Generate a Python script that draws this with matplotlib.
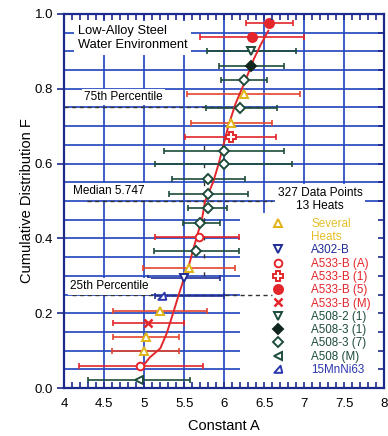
import matplotlib
matplotlib.use("Agg")
import numpy as np
import matplotlib.pyplot as plt
from matplotlib.lines import Line2D
from matplotlib.patches import Rectangle
from matplotlib.path import Path
from matplotlib.ticker import MultipleLocator, FixedLocator

plt.rcParams['font.family'] = ['Liberation Sans', 'DejaVu Sans']

# ---- data: cumulative rank F, constant A, and the A range (low / high) ----
several_F = [0.785, 0.709, 0.320, 0.207, 0.136, 0.100]
several_A = [6.24, 6.09, 5.56, 5.19, 5.02, 5.00]
several_lo = [5.53, 5.58, 4.98, 4.61, 4.61, 4.59]
several_hi = [6.95, 6.60, 6.13, 5.78, 5.43, 5.43]

a302b_F = [0.293]
a302b_A = [5.50]
a302b_lo = [5.05]
a302b_hi = [5.94]

a533bA_F = [0.405, 0.059]
a533bA_A = [5.68, 4.94]
a533bA_lo = [5.13, 4.18]
a533bA_hi = [6.18, 5.73]

a533b1_F = [0.672]
a533b1_A = [6.08]
a533b1_lo = [5.51]
a533b1_hi = [6.65]

a533b5_F = [0.977, 0.939]
a533b5_A = [6.56, 6.35]
a533b5_lo = [6.27, 5.70]
a533b5_hi = [6.86, 7.00]

a533bM_F = [0.175]
a533bM_A = [5.04]
a533bM_lo = [4.61]
a533bM_hi = [5.50]

a5082_F = [0.901]
a5082_A = [6.33]
a5082_lo = [5.78]
a5082_hi = [6.90]

a5083_1_F = [0.862]
a5083_1_A = [6.33]
a5083_1_lo = [5.93]
a5083_1_hi = [6.74]

a5083_7_F = [0.824, 0.748, 0.634, 0.598, 0.558, 0.519, 0.480, 0.442, 0.366]
a5083_7_A = [6.24, 6.20, 6.00, 5.99, 5.80, 5.79, 5.79, 5.70, 5.65]
a5083_7_lo = [5.96, 5.77, 5.25, 5.13, 5.35, 5.31, 5.54, 5.48, 5.12]
a5083_7_hi = [6.53, 6.66, 6.75, 6.85, 6.26, 6.29, 6.03, 5.95, 6.18]

a508M_F = [0.021]
a508M_A = [4.93]
a508M_lo = [4.29]
a508M_hi = [5.57]

mnni_F = [0.246]
mnni_A = [5.22]
mnni_lo = [5.14]
mnni_hi = [5.99]

# fitted cumulative distribution
fit_A = [4.95, 5.07, 5.20, 5.28, 5.36, 5.43, 5.49, 5.56, 5.65, 5.72, 5.76,
         5.86, 5.93, 6.05, 6.14, 6.26, 6.37, 6.46, 6.55]
fit_F = [0.050, 0.082, 0.106, 0.146, 0.200, 0.249, 0.289, 0.330, 0.400, 0.450,
         0.500, 0.550, 0.600, 0.700, 0.760, 0.820, 0.880, 0.920, 0.955]

percentiles = [0.25, 0.50, 0.75]
median_A = 5.747

x_ticks = [4, 4.5, 5, 5.5, 6, 6.5, 7, 7.5, 8]
x_tick_labels = ["4", "4.5", "5", "5.5", "6", "6.5", "7", "7.5", "8"]
y_ticks = [0.0, 0.2, 0.4, 0.6, 0.8, 1.0]
y_tick_labels = ["0.0", "0.2", "0.4", "0.6", "0.8", "1.0"]

# ---- colours ----
RED = '#e3262b'
ORANGE_RED = '#e5452d'
GREEN = '#1d4c3a'
NAVY = '#1f2c94'
BLUE = '#2c37ad'
YELLOW = '#e0b316'
YELLOW_TXT = '#e4bf2a'
GRID = '#2f50c2'
FRAME = '#1c2a8c'

slant_tri = Path([(-1.0, -0.8), (0.9, -0.8), (0.5, 0.9), (-1.0, -0.8)],
                 [Path.MOVETO, Path.LINETO, Path.LINETO, Path.CLOSEPOLY])

series = [
    dict(label='Several', F=several_F, A=several_A, lo=several_lo, hi=several_hi,
         marker='^', mfc='white', mec=YELLOW, ms=6, ecolor=ORANGE_RED, tcolor=YELLOW_TXT),
    dict(label='A302-B', F=a302b_F, A=a302b_A, lo=a302b_lo, hi=a302b_hi,
         marker='v', mfc='white', mec=NAVY, ms=6, ecolor=NAVY, tcolor=NAVY),
    dict(label='A533-B (A)', F=a533bA_F, A=a533bA_A, lo=a533bA_lo, hi=a533bA_hi,
         marker='o', mfc='white', mec=RED, ms=5.5, ecolor=RED, tcolor=RED),
    dict(label='A533-B (1)', F=a533b1_F, A=a533b1_A, lo=a533b1_lo, hi=a533b1_hi,
         marker='P', mfc='white', mec=RED, ms=6.5, ecolor=RED, tcolor=RED),
    dict(label='A533-B (5)', F=a533b5_F, A=a533b5_A, lo=a533b5_lo, hi=a533b5_hi,
         marker='o', mfc=RED, mec=RED, ms=6.5, ecolor=RED, tcolor=RED),
    dict(label='A533-B (M)', F=a533bM_F, A=a533bM_A, lo=a533bM_lo, hi=a533bM_hi,
         marker='x', mfc=RED, mec=RED, ms=6, ecolor=RED, tcolor=RED),
    dict(label='A508-2 (1)', F=a5082_F, A=a5082_A, lo=a5082_lo, hi=a5082_hi,
         marker='v', mfc='white', mec=GREEN, ms=6, ecolor=GREEN, tcolor=GREEN),
    dict(label='A508-3 (1)', F=a5083_1_F, A=a5083_1_A, lo=a5083_1_lo, hi=a5083_1_hi,
         marker='D', mfc='#10261d', mec='#10261d', ms=5, ecolor=GREEN, tcolor=GREEN),
    dict(label='A508-3 (7)', F=a5083_7_F, A=a5083_7_A, lo=a5083_7_lo, hi=a5083_7_hi,
         marker='D', mfc='white', mec=GREEN, ms=5, ecolor=GREEN, tcolor=GREEN),
    dict(label='A508 (M)', F=a508M_F, A=a508M_A, lo=a508M_lo, hi=a508M_hi,
         marker='<', mfc='white', mec=GREEN, ms=6, ecolor=GREEN, tcolor=GREEN),
    dict(label='15MnNi63', F=mnni_F, A=mnni_A, lo=mnni_lo, hi=mnni_hi,
         marker=slant_tri, mfc='white', mec=BLUE, ms=6, ecolor=NAVY, tcolor=BLUE),
]

W, H = 388, 436
fig = plt.figure(figsize=(W / 100, H / 100), dpi=100, facecolor='white')
rect = [64.3 / W, 48 / H, 320 / W, 374 / H]

# base axes: grid, data, annotations
ax = fig.add_axes(rect)
ax.set_xlim(4, 8)
ax.set_ylim(0, 1)
ax.xaxis.set_major_locator(MultipleLocator(0.5))
ax.yaxis.set_major_locator(MultipleLocator(0.05))
ax.grid(True, color=GRID, lw=1.3)
ax.set_axisbelow(True)
ax.tick_params(length=0, labelbottom=False, labelleft=False)
for s in ax.spines.values():
    s.set_visible(False)

# white panel behind the key
ax.add_patch(Rectangle((6.196, 0), 8 - 6.196, 0.468, facecolor='white',
                       edgecolor='none', zorder=1))

# percentile guide lines
ax.hlines(percentiles[0], 4.1, 6.6, colors='#333333', lw=1.0,
          linestyles=(0, (3, 2.5)), zorder=2)
ax.hlines(percentiles[1], 4.28, 6.6, colors='#333333', lw=1.0,
          linestyles=(0, (3, 2.5)), zorder=2)
ax.hlines(percentiles[2], 4.0, 6.5, colors='#333333', lw=1.0,
          linestyles=(0, (3, 2.5)), zorder=2)
ax.vlines(median_A, 0.30, 0.68, colors='#333333', lw=1.0,
          linestyles=(0, (3, 10)), zorder=2)

# error bars and markers
for s in series:
    A = np.array(s['A'])
    xerr = [A - np.array(s['lo']), np.array(s['hi']) - A]
    ax.errorbar(A, s['F'], xerr=xerr, fmt='none', ecolor=s['ecolor'],
                elinewidth=1.2, capsize=2.5, capthick=1.2, zorder=3)

ax.plot(fit_A, fit_F, color=RED, lw=1.4, zorder=4)

for s in series:
    mew = 1.8 if s['marker'] == 'x' else 1.4
    ax.plot(s['A'], s['F'], linestyle='none', marker=s['marker'], ms=s['ms'],
            mfc=s['mfc'], mec=s['mec'], mew=mew, zorder=5)

# annotations
box = dict(boxstyle='square,pad=0.3', facecolor='white', edgecolor='none')
ax.text(4.17, 0.97, "Low-Alloy Steel\nWater Environment", fontsize=9.3,
        ha='left', va='top', linespacing=1.2, bbox=box, zorder=6)
ax.text(4.25, percentiles[2] + 0.028, "75th Percentile", fontsize=8.5,
        ha='left', va='center', bbox=dict(boxstyle='square,pad=0.2',
        facecolor='white', edgecolor='none'), zorder=6)
ax.text(4.11, percentiles[1] + 0.026, f"Median {median_A:.3f}", fontsize=8.5,
        ha='left', va='center', bbox=dict(boxstyle='square,pad=0.2',
        facecolor='white', edgecolor='none'), zorder=6)
ax.text(4.07, percentiles[0] + 0.022, "25th Percentile", fontsize=8.5,
        ha='left', va='center', bbox=dict(boxstyle='square,pad=0.2',
        facecolor='white', edgecolor='none'), zorder=6)
ax.text(7.196, 0.505, "327 Data Points\n13 Heats", fontsize=8.6,
        ha='center', va='center', linespacing=1.1,
        bbox=dict(boxstyle='square,pad=0.2', facecolor='white', edgecolor='none'),
        zorder=6)

# key
handles, labels, tcolors = [], [], []
for s in series:
    mew = 1.8 if s['marker'] == 'x' else 1.4
    handles.append(Line2D([], [], linestyle='none', marker=s['marker'], ms=s['ms'],
                          mfc=s['mfc'], mec=s['mec'], mew=mew))
    labels.append(s['label'])
    tcolors.append(s['tcolor'])
    if s['label'] == 'Several':
        handles.append(Line2D([], [], linestyle='none'))
        labels.append('Heats')
        tcolors.append(YELLOW_TXT)
leg = ax.legend(handles, labels, loc='upper left', bbox_to_anchor=(0.651, 0.455),
                frameon=False, fontsize=8.4, handlelength=1.0, handletextpad=2.3,
                labelspacing=0.11, borderpad=0, borderaxespad=0)
for t, c in zip(leg.get_texts(), tcolors):
    t.set_color(c)
leg.set_zorder(7)

# overlay axes: frame, ticks, labels
axt = fig.add_axes(rect, facecolor='none')
axt.set_xlim(4, 8)
axt.set_ylim(0, 1)
axt.xaxis.set_major_locator(FixedLocator(x_ticks))
axt.set_xticklabels(x_tick_labels)
axt.xaxis.set_minor_locator(MultipleLocator(0.1))
axt.yaxis.set_major_locator(FixedLocator(y_ticks))
axt.set_yticklabels(y_tick_labels)
axt.tick_params(axis='x', which='both', direction='in', top=True, bottom=True,
                length=4, width=1.2, color=FRAME, labelsize=9.5, pad=7)
axt.tick_params(axis='y', which='major', direction='out', left=True, right=False,
                length=5, width=1.2, color=FRAME, labelsize=9.5, pad=3)
for s in axt.spines.values():
    s.set_color(FRAME)
    s.set_linewidth(1.6)
axt.set_xlabel("Constant A", fontsize=10.5)
axt.xaxis.set_label_coords(0.5, -0.083)
axt.set_ylabel("Cumulative Distribution F", fontsize=10.5)
axt.yaxis.set_label_coords(-0.096, 0.5)

axr = axt.twinx()
axr.set_ylim(0, 1)
axr.yaxis.set_major_locator(MultipleLocator(0.05))
axr.tick_params(axis='y', direction='in', length=4, width=1.2, color=FRAME,
                labelright=False)
for s in axr.spines.values():
    s.set_visible(False)

fig.savefig("out.png", dpi=100, facecolor='white')
